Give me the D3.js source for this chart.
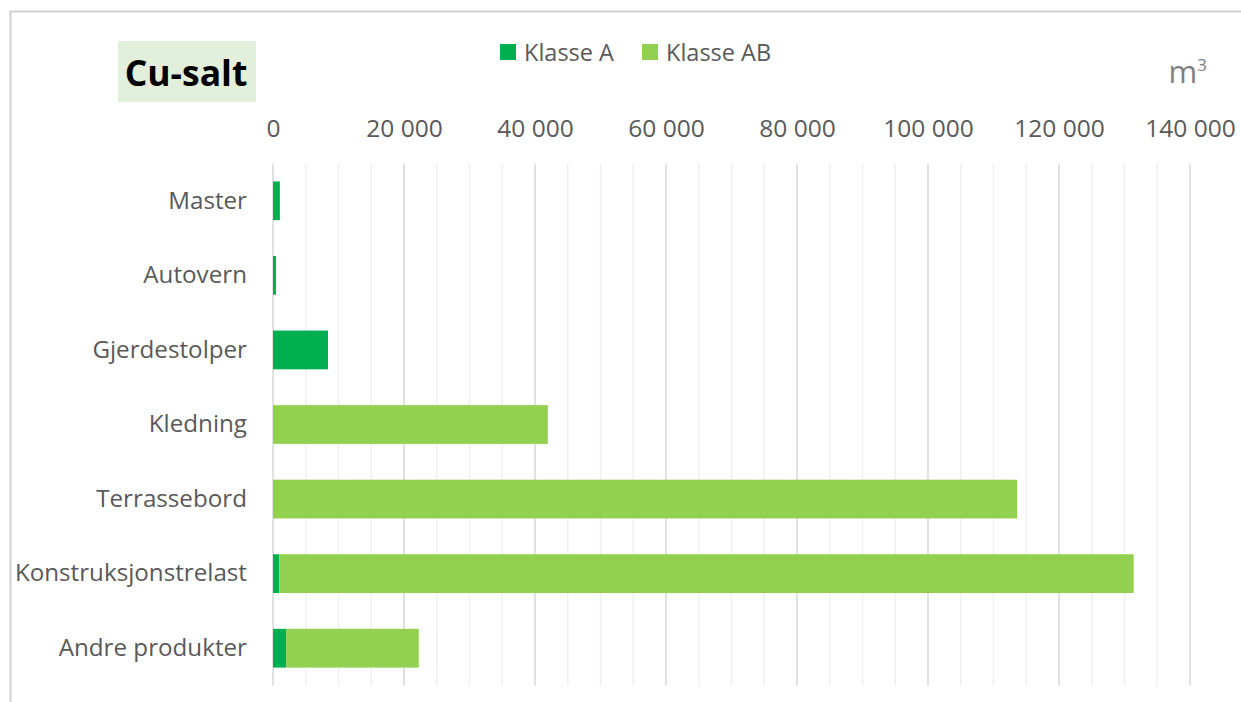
<!DOCTYPE html>
<html>
<head>
<meta charset="utf-8">
<script src="https://cdn.jsdelivr.net/npm/d3@7"></script>
<style>
  body { margin: 0; background: #fff; }
  text { font-family: "Open Sans", "Noto Sans", sans-serif; }
</style>
</head>
<body>
<script>
// Data (m3)
let categories = ["Master", "Autovern", "Gjerdestolper", "Kledning",
                  "Terrassebord", "Konstruksjonstrelast", "Andre produkter"];
let klasseA  = [1050, 450, 8400, 0, 0, 950, 2000];
let klasseAB = [0, 0, 0, 41950, 113600, 130450, 20250];
let seriesNames = ["Klasse A", "Klasse AB"];
let seriesColors = ["#00B050", "#92D050"];
let xTicks = [0, 20000, 40000, 60000, 80000, 100000, 120000, 140000];

let W = 1241, H = 702;
let margin = { top: 163.5, right: 51, bottom: 16.5, left: 273 };
let width = W - margin.left - margin.right;
let height = H - margin.top - margin.bottom;

let svg = d3.select("body")
  .append("svg")
    .attr("width", W)
    .attr("height", H);

// Chart frame
svg.append("path")
  .attr("d", "M10.5," + H + "V11.5H" + W)
  .attr("fill", "none")
  .attr("stroke", "#D0D0D0")
  .attr("stroke-width", 2);

let g = svg.append("g")
  .attr("transform", "translate(" + margin.left + "," + margin.top + ")");

let x = d3.scaleLinear()
  .domain([0, 140000])
  .range([0, width]);

let y = d3.scaleBand()
  .domain(categories)
  .range([0, height])
  .paddingInner(0.48)
  .paddingOuter(0.24);

// Minor gridlines every 5000
g.append("g")
  .selectAll("line")
  .data(d3.range(5000, 140001, 5000).filter((v) => v % 20000 !== 0))
  .enter().append("line")
    .attr("x1", (d) => x(d)).attr("x2", (d) => x(d))
    .attr("y1", 0).attr("y2", height)
    .attr("stroke", "#F0F0F0")
    .attr("stroke-width", 1.5);

// Major gridlines
g.append("g")
  .selectAll("line")
  .data(xTicks)
  .enter().append("line")
    .attr("x1", (d) => x(d)).attr("x2", (d) => x(d))
    .attr("y1", 0).attr("y2", height)
    .attr("stroke", "#D9D9D9")
    .attr("stroke-width", 1.5);

// Top axis labels
let locale = d3.formatLocale({ decimal: ",", thousands: " ", grouping: [3], currency: ["", ""] });
let fmt = locale.format(",d");
let xAxis = g.append("g")
  .attr("transform", "translate(0,-26.5)")
  .call(d3.axisTop(x).tickValues(xTicks).tickFormat(fmt).tickSize(0).tickPadding(0));
xAxis.select(".domain").remove();
xAxis.selectAll("text")
  .attr("fill", "#595959")
  .style("font-size", "24.5px")
  .attr("dy", "0");

// Category labels
let yAxis = g.append("g")
  .attr("transform", "translate(-26,0)")
  .call(d3.axisLeft(y).tickSize(0).tickPadding(0));
yAxis.select(".domain").remove();
yAxis.selectAll("text")
  .attr("fill", "#595959")
  .style("font-size", "24.2px");

// Stacked bars
let table = categories.map((c, i) => ({ cat: c, "Klasse A": klasseA[i], "Klasse AB": klasseAB[i] }));
let stacked = d3.stack().keys(seriesNames)(table);

g.selectAll(".series")
  .data(stacked).enter()
  .append("g")
    .attr("fill", (d, i) => seriesColors[i])
  .selectAll("rect")
  .data((d) => d.filter((p) => p[1] > p[0])).enter()
  .append("rect")
    .attr("x", (d) => x(d[0]))
    .attr("y", (d) => y(d.data.cat))
    .attr("width", (d) => x(d[1]) - x(d[0]))
    .attr("height", y.bandwidth());

// Legend
let legend = svg.append("g");
let legendX = [500, 642];
seriesNames.forEach((name, i) => {
  legend.append("rect")
    .attr("x", legendX[i]).attr("y", 44)
    .attr("width", 16).attr("height", 16)
    .attr("fill", seriesColors[i]);
  legend.append("text")
    .attr("x", legendX[i] + 24).attr("y", 60.5)
    .attr("fill", "#595959")
    .style("font-size", "23.5px")
    .text(name);
});

// Title with shaded box
svg.append("rect")
  .attr("x", 118).attr("y", 41)
  .attr("width", 138).attr("height", 61)
  .attr("fill", "#E2EFDA");
svg.append("text")
  .attr("x", 186).attr("y", 86)
  .attr("text-anchor", "middle")
  .style("font-size", "35.5px")
  .style("font-weight", "bold")
  .attr("fill", "#000")
  .text("Cu-salt");

// Unit label
let unit = svg.append("text")
  .attr("x", 1207).attr("y", 83)
  .attr("text-anchor", "end")
  .attr("fill", "#7F7F7F")
  .style("font-size", "31px");
unit.append("tspan").text("m");
unit.append("tspan").attr("dy", -12).style("font-size", "17px").text("3");
</script>
</body>
</html>
